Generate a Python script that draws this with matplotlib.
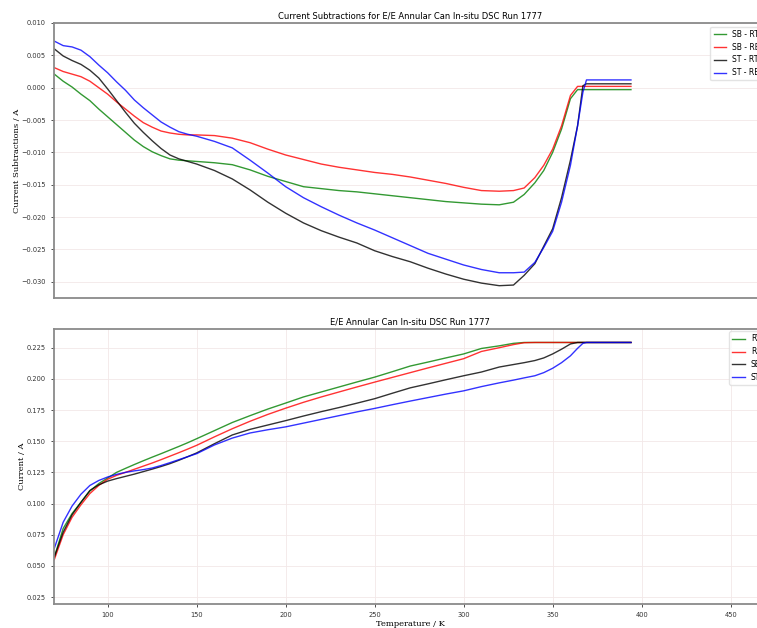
import matplotlib
matplotlib.use("Agg")
import matplotlib.pyplot as plt

# temperature grid (K) shared by all traces
temps = [70, 75, 80, 85, 90, 95, 100, 105, 110, 115, 120, 125, 130, 135, 140,
         145, 150, 160, 170, 180, 190, 200, 210, 220, 230, 240, 250, 260, 270,
         280, 290, 300, 310, 320, 328, 334, 340, 345, 350, 355, 360, 364, 367,
         369, 380, 394]

# current subtractions (A)
sb_rt = [0.0021, 0.0010, 0.0001, -0.0010, -0.0020, -0.0033, -0.0045, -0.0057,
         -0.0069, -0.0081, -0.0091, -0.0099, -0.0105, -0.0110, -0.0112, -0.0113,
         -0.0114, -0.0116, -0.0119, -0.0127, -0.0137, -0.0145, -0.0153, -0.0156,
         -0.0159, -0.0161, -0.0164, -0.0167, -0.0170, -0.0173, -0.0176, -0.0178,
         -0.0180, -0.0181, -0.0177, -0.0165, -0.0147, -0.0128, -0.0100, -0.0064,
         -0.0017, -0.0003, -0.0003, -0.0003, -0.0003, -0.0003]
sb_re = [0.0031, 0.0025, 0.0021, 0.0017, 0.0010, 0.0000, -0.0010, -0.0022,
         -0.0033, -0.0044, -0.0054, -0.0061, -0.0067, -0.0070, -0.0072, -0.0073,
         -0.0073, -0.0074, -0.0078, -0.0085, -0.0095, -0.0104, -0.0111, -0.0118,
         -0.0123, -0.0127, -0.0131, -0.0134, -0.0138, -0.0143, -0.0148, -0.0154,
         -0.0159, -0.0160, -0.0159, -0.0155, -0.0139, -0.0120, -0.0095, -0.0059,
         -0.0012, 0.0002, 0.0002, 0.0002, 0.0002, 0.0002]
st_rt = [0.0060, 0.0049, 0.0042, 0.0036, 0.0027, 0.0015, -0.0002, -0.0020,
         -0.0038, -0.0055, -0.0069, -0.0082, -0.0094, -0.0104, -0.0110, -0.0114,
         -0.0118, -0.0128, -0.0141, -0.0158, -0.0177, -0.0194, -0.0209, -0.0221,
         -0.0231, -0.0240, -0.0252, -0.0261, -0.0269, -0.0279, -0.0288, -0.0296,
         -0.0302, -0.0306, -0.0305, -0.0290, -0.0272, -0.0245, -0.0218, -0.0170,
         -0.0112, -0.0059, 0.0003, 0.0006, 0.0006, 0.0006]
st_re = [0.0072, 0.0065, 0.0063, 0.0058, 0.0048, 0.0035, 0.0023, 0.0009,
         -0.0004, -0.0019, -0.0031, -0.0042, -0.0053, -0.0061, -0.0068, -0.0072,
         -0.0075, -0.0083, -0.0093, -0.0112, -0.0132, -0.0153, -0.0170, -0.0184,
         -0.0197, -0.0209, -0.0220, -0.0232, -0.0244, -0.0256, -0.0265, -0.0274,
         -0.0281, -0.0286, -0.0286, -0.0285, -0.0270, -0.0247, -0.0222, -0.0177,
         -0.0120, -0.0059, -0.0007, 0.0012, 0.0012, 0.0012]

# raw currents (A)
rt = [0.057, 0.080, 0.092, 0.101, 0.1100, 0.1160, 0.1205, 0.1250, 0.1282,
      0.1313, 0.1343, 0.1372, 0.1400, 0.1429, 0.1458, 0.1488, 0.1520, 0.1585,
      0.1650, 0.1705, 0.1758, 0.1806, 0.1855, 0.1895, 0.1935, 0.1975, 0.2014,
      0.2058, 0.2103, 0.2135, 0.2168, 0.2200, 0.2244, 0.2265, 0.2285, 0.2292,
      0.2292, 0.2292, 0.2292, 0.2292, 0.2292, 0.2292, 0.2292, 0.2292, 0.2292,
      0.2292]
re = [0.055, 0.075, 0.089, 0.099, 0.1080, 0.1145, 0.1195, 0.1226, 0.1250,
      0.1275, 0.1300, 0.1325, 0.1352, 0.1380, 0.1408, 0.1437, 0.1467, 0.1535,
      0.1600, 0.1660, 0.1715, 0.1765, 0.1812, 0.1855, 0.1895, 0.1935, 0.1974,
      0.2012, 0.2050, 0.2088, 0.2125, 0.2162, 0.2220, 0.2250, 0.2275, 0.2290,
      0.2292, 0.2292, 0.2292, 0.2292, 0.2292, 0.2292, 0.2292, 0.2292, 0.2292,
      0.2292]
sb = [0.057, 0.077, 0.091, 0.101, 0.1105, 0.1150, 0.1180, 0.1200, 0.1218,
      0.1236, 0.1256, 0.1276, 0.1297, 0.1320, 0.1347, 0.1376, 0.1406, 0.1480,
      0.1550, 0.1595, 0.1630, 0.1665, 0.1702, 0.1737, 0.1770, 0.1805, 0.1841,
      0.1885, 0.1928, 0.1960, 0.1993, 0.2025, 0.2055, 0.2095, 0.2115, 0.2130,
      0.2147, 0.2168, 0.2200, 0.2238, 0.2280, 0.2292, 0.2292, 0.2292, 0.2292,
      0.2292]
st = [0.064, 0.085, 0.098, 0.1075, 0.1145, 0.1185, 0.1213, 0.1234, 0.1250,
      0.1262, 0.1272, 0.1285, 0.1305, 0.1328, 0.1352, 0.1376, 0.1400, 0.1470,
      0.1525, 0.1566, 0.1592, 0.1615, 0.1645, 0.1675, 0.1705, 0.1735, 0.1763,
      0.1793, 0.1822, 0.1850, 0.1878, 0.1904, 0.1938, 0.1968, 0.1990, 0.2008,
      0.2025, 0.2050, 0.2085, 0.2130, 0.2185, 0.2245, 0.2285, 0.2292, 0.2292,
      0.2292]

sub_labels = ["SB - RT", "SB - RE", "ST - RT", "ST - RE"]
raw_labels = ["RT", "RE", "SB", "ST"]
colors = ["green", "red", "black", "blue"]

fig = plt.figure(figsize=(7.57, 6.28), dpi=100)
# axes run past the right edge, the original image is cropped there
ax1 = fig.add_axes([0.0717, 0.5255, 0.9405, 0.4379])
ax2 = fig.add_axes([0.0717, 0.0382, 0.9405, 0.4379])

tick_fs = 4.8
spine_col = "#8a8a8a"

for ax in (ax1, ax2):
    for s in ax.spines.values():
        s.set_color(spine_col)
        s.set_linewidth(1.3)
    ax.tick_params(labelsize=tick_fs, colors="#333333", length=2.5, width=0.6)
    ax.grid(True, color="#f2e8e8", linewidth=0.6)
    ax.set_xlim(70, 470)

for ys, lab, c in zip([sb_rt, sb_re, st_rt, st_re], sub_labels, colors):
    ax1.plot(temps, ys, color=c, lw=1.0, alpha=0.8, label=lab)
ax1.set_ylim(-0.0325, 0.010)
ax1.set_xticks([])
ax1.set_title("Current Subtractions for E/E Annular Can In-situ DSC Run 1777",
              fontsize=6.0, pad=3)
ax1.set_ylabel("Current Subtractions / A", family="DejaVu Serif", fontsize=6,
               labelpad=0.5)
ax1.legend(loc="upper right", fontsize=5.5, handlelength=1.6,
           borderaxespad=0.5, edgecolor="#dddddd", fancybox=True)

for ys, lab, c in zip([rt, re, sb, st], raw_labels, colors):
    ax2.plot(temps, ys, color=c, lw=1.0, alpha=0.8, label=lab)
ax2.set_ylim(0.0194, 0.240)
ax2.set_yticks([0.025, 0.050, 0.075, 0.100, 0.125, 0.150, 0.175, 0.200, 0.225])
ax2.set_xticks([100, 150, 200, 250, 300, 350, 400, 450])
ax2.set_title("E/E Annular Can In-situ DSC Run 1777", fontsize=6.0, pad=3)
ax2.set_ylabel("Current / A", family="DejaVu Serif", fontsize=6, labelpad=0.5)
ax2.set_xlabel("Temperature / K", family="DejaVu Serif", fontsize=6, labelpad=1)
ax2.legend(loc="upper right", fontsize=5.5, handlelength=1.6,
           borderaxespad=0.3, edgecolor="#dddddd", fancybox=True)

fig.savefig("out.png", dpi=100)
